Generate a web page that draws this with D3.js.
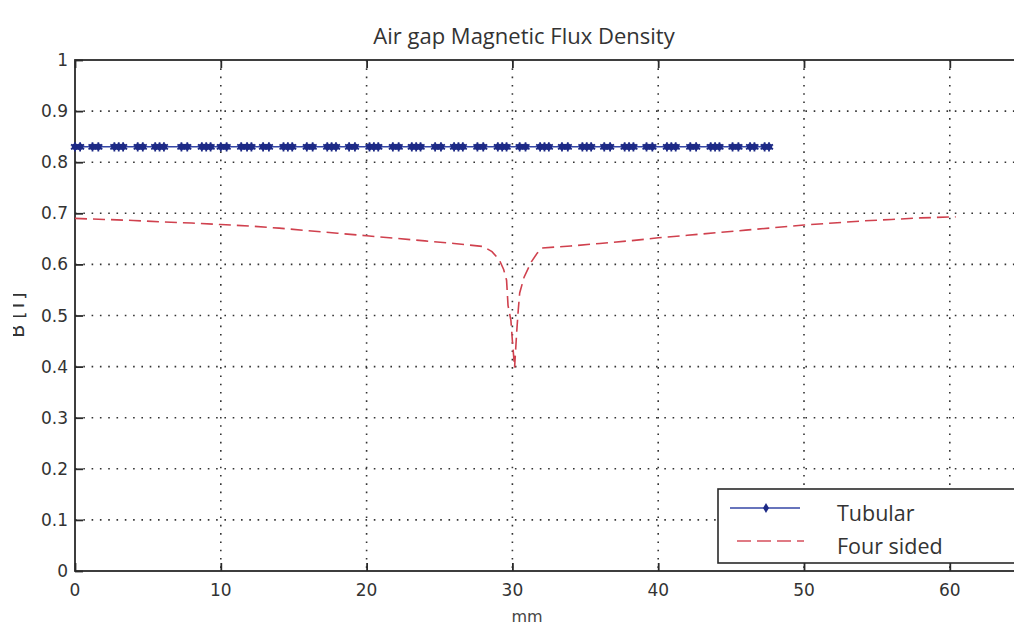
<!DOCTYPE html>
<html>
<head>
<meta charset="utf-8">
<script src="https://cdn.jsdelivr.net/npm/d3@7"></script>
<style>
  body { margin: 0; background: white; }
  svg { display: block; overflow: hidden; }
</style>
</head>
<body>
<svg id="chart" width="1014" height="630"></svg>
<script>
// data
const xTicks = [0, 10, 20, 30, 40, 50, 60, 70]
const xTickLabels = ['0', '10', '20', '30', '40', '50', '60', '']
const yTicks = [0, 0.1, 0.2, 0.3, 0.4, 0.5, 0.6, 0.7, 0.8, 0.9, 1]
const yTickLabels = ['0', '0.1', '0.2', '0.3', '0.4', '0.5', '0.6', '0.7', '0.8', '0.9', '1']

const tubularX = [0, 0.35, 1.2, 1.6, 2.7, 3.0, 3.3, 4.3, 4.65, 5.5, 5.8, 6.1, 7.3, 7.7, 8.7, 9.0, 9.3,
  10.0, 10.4, 11.4, 11.8, 12.1, 12.9, 13.3, 14.3, 14.6, 14.9, 15.9, 16.3, 17.3, 17.6, 17.9,
  18.8, 19.2, 20.2, 20.5, 20.8, 21.8, 22.2, 23.1, 23.4, 23.7, 24.7, 25.1, 26.0, 26.3, 26.6,
  27.6, 28.0, 29.0, 29.3, 29.6, 30.5, 30.9, 31.9, 32.2, 32.5, 33.4, 33.8, 34.8, 35.1, 35.4,
  36.3, 36.7, 37.7, 38.0, 38.3, 39.2, 39.6, 40.6, 40.9, 41.2, 42.2, 42.6, 43.6, 43.9, 44.2,
  45.1, 45.5, 46.3, 46.6, 47.3, 47.6]
const tubularB = [0.83, 0.83, 0.83, 0.83, 0.83, 0.83, 0.83, 0.83, 0.83, 0.83, 0.83, 0.83, 0.83, 0.83, 0.83, 0.83, 0.83,
  0.83, 0.83, 0.83, 0.83, 0.83, 0.83, 0.83, 0.83, 0.83, 0.83, 0.83, 0.83, 0.83, 0.83, 0.83,
  0.83, 0.83, 0.83, 0.83, 0.83, 0.83, 0.83, 0.83, 0.83, 0.83, 0.83, 0.83, 0.83, 0.83, 0.83,
  0.83, 0.83, 0.83, 0.83, 0.83, 0.83, 0.83, 0.83, 0.83, 0.83, 0.83, 0.83, 0.83, 0.83, 0.83,
  0.83, 0.83, 0.83, 0.83, 0.83, 0.83, 0.83, 0.83, 0.83, 0.83, 0.83, 0.83, 0.83, 0.83, 0.83,
  0.83, 0.83, 0.83, 0.83, 0.83, 0.83]

const fourX = [0, 2, 4, 6, 8, 10, 12, 14, 16, 18, 20, 22, 24, 26, 27, 28, 28.6, 29.1, 29.4, 29.6,
  29.7, 29.9, 30.0, 30.15, 30.3, 30.4, 30.5, 30.8, 31.3, 31.7, 32.0, 33, 34, 36, 38, 40, 42,
  44, 46, 48, 50, 52, 54, 56, 58, 60.4]
const fourB = [0.690, 0.688, 0.686, 0.683, 0.681, 0.678, 0.675, 0.671, 0.666, 0.661, 0.656, 0.651,
  0.646, 0.641, 0.638, 0.635, 0.625, 0.609, 0.590, 0.569, 0.520, 0.490, 0.450, 0.398, 0.470,
  0.510, 0.544, 0.575, 0.605, 0.622, 0.632, 0.634, 0.636, 0.641, 0.646, 0.652, 0.657, 0.662,
  0.667, 0.672, 0.677, 0.681, 0.685, 0.688, 0.691, 0.693]

const seriesNames = ['Tubular', 'Four sided']

const blue = '#3446a6'
const navy = '#1d2a86'
const red = '#d0414e'
const ink = '#2a2a2a'

const svg = d3.select('#chart')
const margins = { left: 75, top: 60, bottom: 571 }
const { left, bottom } = margins
const plotTop = margins.top

const x = d3.scaleLinear().domain([0, 70]).range([left, left + 70 * 14.58])
const y = d3.scaleLinear().domain([0, 1]).range([bottom, plotTop])
const right = x(70)

// dotted grid
const grid = svg.append('g')
  .attr('stroke', '#333')
  .attr('stroke-width', 1.6)
  .attr('stroke-dasharray', '1.6,6.7')
grid.selectAll('.gx').data(xTicks.slice(1, -1)).join('line')
  .attr('x1', d => x(d)).attr('x2', d => x(d))
  .attr('y1', plotTop).attr('y2', bottom)
grid.selectAll('.gy').data(yTicks.slice(1, -1)).join('line')
  .attr('x1', left).attr('x2', right)
  .attr('y1', d => y(d)).attr('y2', d => y(d))

// axes box with inward ticks
const xAxisB = d3.axisTop(x).tickValues(xTicks).tickSize(8).tickFormat('')
const xAxisT = d3.axisBottom(x).tickValues(xTicks).tickSize(8).tickFormat('')
const yAxisL = d3.axisRight(y).tickValues(yTicks).tickSize(8).tickFormat('')
svg.append('g').attr('transform', `translate(0,${bottom})`).call(xAxisB)
svg.append('g').attr('transform', `translate(0,${plotTop})`).call(xAxisT)
svg.append('g').attr('transform', `translate(${left},0)`).call(yAxisL)
svg.selectAll('.domain').remove()
svg.selectAll('.tick line').attr('stroke', ink).attr('stroke-width', 1.8)

svg.append('rect')
  .attr('x', left).attr('y', plotTop)
  .attr('width', right - left).attr('height', bottom - plotTop)
  .attr('fill', 'none').attr('stroke', ink).attr('stroke-width', 1.8)

// tick labels
svg.append('g').selectAll('text').data(xTicks).join('text')
  .attr('x', d => x(d)).attr('y', 596)
  .attr('text-anchor', 'middle')
  .attr('font-family', 'DejaVu Sans').attr('font-size', 17).attr('fill', '#333')
  .text((d, i) => xTickLabels[i])

svg.append('g').selectAll('text').data(yTicks).join('text')
  .attr('x', 68).attr('y', d => y(d) + 6)
  .attr('text-anchor', 'end')
  .attr('font-family', 'DejaVu Sans').attr('font-size', 17).attr('fill', '#333')
  .text((d, i) => yTickLabels[i])

// titles
svg.append('text')
  .attr('x', 524).attr('y', 44)
  .attr('text-anchor', 'middle')
  .attr('font-family', 'Open Sans').attr('font-size', 22).attr('fill', '#333')
  .text('Air gap Magnetic Flux Density')

svg.append('text')
  .attr('x', 527).attr('y', 622)
  .attr('text-anchor', 'middle')
  .attr('font-family', 'DejaVu Sans').attr('font-size', 16).attr('fill', '#444')
  .text('mm')

// y label, partly cut off on the left as in the picture
svg.append('clipPath').attr('id', 'ylab-clip')
  .append('rect').attr('x', 13).attr('y', 250).attr('width', 40).attr('height', 130)
svg.append('g').attr('clip-path', 'url(#ylab-clip)')
  .append('text')
  .attr('transform', 'translate(24,315) rotate(-90)')
  .attr('text-anchor', 'middle')
  .attr('font-family', 'DejaVu Sans').attr('font-size', 19).attr('fill', '#333')
  .text('B [T]')

// series
const tubular = tubularX.map((d, i) => [d, tubularB[i]])
const four = fourX.map((d, i) => [d, fourB[i]])
const line = d3.line().x(d => x(d[0])).y(d => y(d[1]))

svg.append('path').datum(four)
  .attr('fill', 'none').attr('stroke', red).attr('stroke-width', 1.6)
  .attr('stroke-dasharray', '12,6')
  .attr('d', line)

svg.append('path').datum(tubular)
  .attr('fill', 'none').attr('stroke', blue).attr('stroke-width', 1.5)
  .attr('d', line)

const star = d3.symbol().type(d3.symbolAsterisk).size(60)
svg.append('g').selectAll('path').data(tubular).join('path')
  .attr('transform', d => `translate(${x(d[0])},${y(d[1])})`)
  .attr('d', star)
  .attr('fill', 'none').attr('stroke', navy).attr('stroke-width', 1.8)
svg.append('g').selectAll('circle').data(tubular).join('circle')
  .attr('cx', d => x(d[0])).attr('cy', d => y(d[1])).attr('r', 3.3)
  .attr('fill', navy)

// legend
const lg = svg.append('g')
lg.append('rect')
  .attr('x', 718).attr('y', 489).attr('width', 330).attr('height', 74)
  .attr('fill', 'white').attr('stroke', ink).attr('stroke-width', 1.6)
lg.append('line').attr('x1', 730).attr('x2', 800).attr('y1', 508).attr('y2', 508)
  .attr('stroke', blue).attr('stroke-width', 1.5)
lg.append('path').attr('transform', 'translate(766,508)')
  .attr('d', d3.symbol().type(d3.symbolDiamond).size(30))
  .attr('fill', navy)
lg.append('line').attr('x1', 737).attr('x2', 804).attr('y1', 541).attr('y2', 541)
  .attr('stroke', '#e07a84').attr('stroke-width', 1.8).attr('stroke-dasharray', '14,6')
lg.selectAll('text').data(seriesNames).join('text')
  .attr('x', 837).attr('y', (d, i) => 521 + i * 33)
  .attr('font-family', 'Open Sans').attr('font-size', 21.5).attr('fill', '#333')
  .text(d => d)
</script>
</body>
</html>
